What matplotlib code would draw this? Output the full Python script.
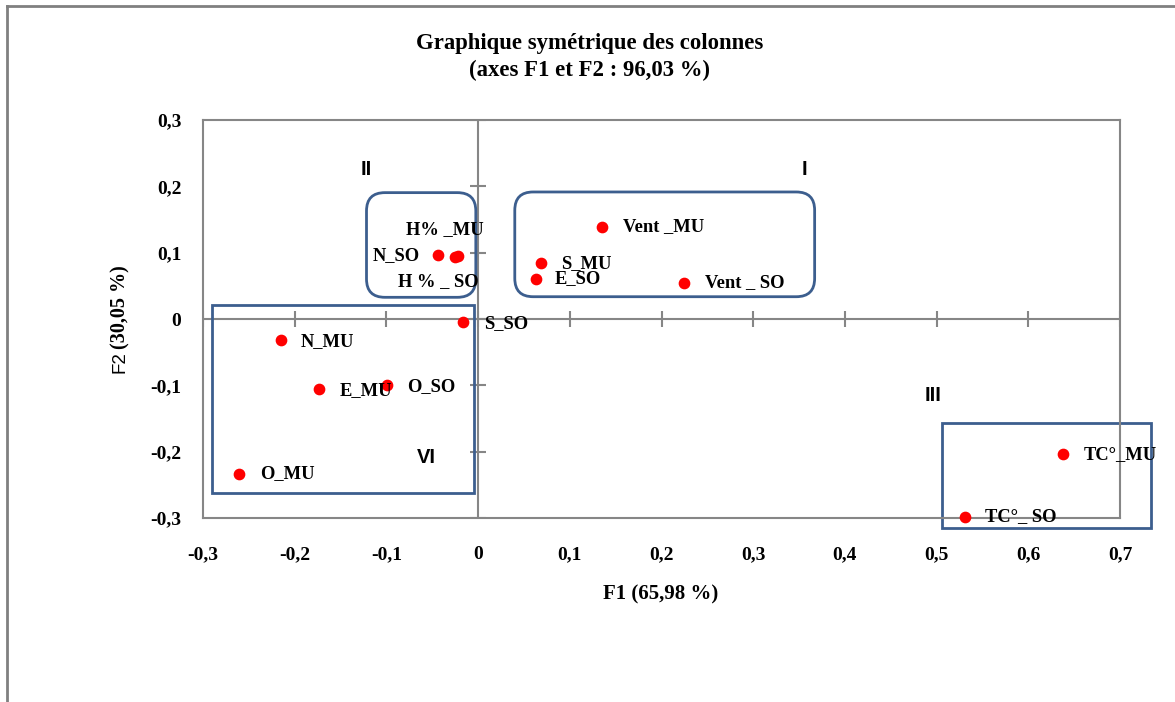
import matplotlib
matplotlib.use("Agg")
import matplotlib.pyplot as plt
from matplotlib.patches import FancyBboxPatch, Rectangle
from matplotlib.lines import Line2D

# coordonnées des colonnes (F1, F2)
labels = ["Vent _MU", "Vent _ SO", "S_MU", "E_SO", "H% _MU", "N_SO", "H % _ SO",
          "S_SO", "N_MU", "E_MU", "O_SO", "O_MU", "TC°_MU", "TC°_ SO"]
f1 = [0.135, 0.225, 0.069, 0.063, -0.022, -0.044, -0.025,
      -0.016, -0.215, -0.173, -0.099, -0.261, 0.638, 0.531]
f2 = [0.139, 0.055, 0.084, 0.060, 0.095, 0.096, 0.093,
      -0.005, -0.032, -0.106, -0.100, -0.233, -0.204, -0.298]

xticks = [-0.3, -0.2, -0.1, 0, 0.1, 0.2, 0.3, 0.4, 0.5, 0.6, 0.7]
xtick_labels = ["-0,3", "-0,2", "-0,1", "0", "0,1", "0,2", "0,3", "0,4", "0,5", "0,6", "0,7"]
yticks = [-0.3, -0.2, -0.1, 0, 0.1, 0.2, 0.3]
ytick_labels = ["-0,3", "-0,2", "-0,1", "0", "0,1", "0,2", "0,3"]

# décalage des étiquettes (pixels) par rapport aux points
label_offsets = {
    "Vent _MU": (21, 0), "Vent _ SO": (21, 0), "S_MU": (20, 0), "E_SO": (19, 1),
    "H% _MU": (-52, 26), "N_SO": (-65, 0), "H % _ SO": (-57, -24),
    "S_SO": (21, -1), "N_MU": (20, -1), "E_MU": (20, -1), "O_SO": (20, -1),
    "O_MU": (21, 0), "TC°_MU": (21, 0), "TC°_ SO": (20, 0),
}

# groupes (x0, y0, x1, y1), coins arrondis
groups = [
    ((0.040, 0.0336, 0.367, 0.1915), True),
    ((-0.1217, 0.0327, -0.0025, 0.1905), True),
    ((-0.2907, -0.262, -0.0047, 0.0216), False),
    ((0.506, -0.3157, 0.7343, -0.1573), False),
]
group_names = ["I", "II", "III", "VI"]
group_name_pos = [(0.356, 0.226), (-0.122, 0.226), (0.496, -0.115), (-0.056, -0.209)]

serif = "Liberation Serif"
sans = "Liberation Sans"
gray = "#868686"
blue = "#3c5e8e"

fig = plt.figure(figsize=(11.75, 7.02), dpi=100)
W, H = 1175, 702
ax = fig.add_axes([203 / W, (H - 518) / H, (1120 - 203) / W, (518 - 120) / H])

ax.set_xlim(-0.3, 0.7)
ax.set_ylim(-0.3, 0.3)
for s in ax.spines.values():
    s.set_color(gray)
    s.set_linewidth(1.5)

ax.set_xticks(xticks)
ax.set_xticklabels(xtick_labels, fontfamily=serif, fontweight="bold", fontsize=14)
ax.set_yticks(yticks)
ax.set_yticklabels(ytick_labels, fontfamily=serif, fontweight="bold", fontsize=14)
ax.tick_params(length=0)
ax.tick_params(axis="x", pad=20)
ax.tick_params(axis="y", pad=15.5)

# axes centraux avec graduations en croix
ax.axhline(0, color=gray, lw=1.5, zorder=1)
ax.axvline(0, color=gray, lw=1.5, zorder=1)
ax.plot(xticks, [0] * len(xticks), ls="none", marker="|", ms=11, mew=1.5, color=gray, zorder=1)
ax.plot([0] * len(yticks), yticks, ls="none", marker="_", ms=11, mew=1.5, color=gray, zorder=1)

# cadres des groupes
for (x0, y0, x1, y1), rounded in groups:
    if rounded:
        p = FancyBboxPatch((x0, y0), x1 - x0, y1 - y0,
                           boxstyle="round,pad=0,rounding_size=0.02",
                           mutation_aspect=1.38, fill=False, ec=blue, lw=2,
                           clip_on=False, zorder=2)
    else:
        p = Rectangle((x0, y0), x1 - x0, y1 - y0, fill=False, ec=blue, lw=2,
                      clip_on=False, zorder=2)
    ax.add_patch(p)

for name, (gx, gy) in zip(group_names, group_name_pos):
    ax.text(gx, gy, name, fontfamily=sans, fontweight="bold", fontsize=14.5,
            ha="center", va="center")

ax.scatter(f1, f2, s=55, color="red", zorder=3, clip_on=False)

for lab, x, y in zip(labels, f1, f2):
    dx, dy = label_offsets[lab]
    ax.annotate(lab, (x, y), xytext=(dx, dy), textcoords="offset pixels",
                fontfamily=serif, fontweight="bold", fontsize=13.3,
                ha="left", va="center", zorder=4)

fig.text(590 / W, 1 - 43 / H, "Graphique symétrique des colonnes", fontfamily=serif,
         fontweight="bold", fontsize=16.4, ha="center", va="center")
fig.text(590 / W, 1 - 70 / H, "(axes F1 et F2 : 96,03 %)", fontfamily=serif,
         fontweight="bold", fontsize=16.4, ha="center", va="center")
fig.text(661 / W, 1 - 594 / H, "F1 (65,98 %)", fontfamily=serif,
         fontweight="bold", fontsize=15, ha="center", va="center")
fig.text(120 / W, 1 - 349 / H, "(30,05 %)", fontfamily=serif, fontweight="bold",
         fontsize=14.5, rotation=90, ha="center", va="bottom")
fig.text(120 / W, 1 - 351 / H, "F2", fontfamily=sans, fontsize=13.5,
         rotation=90, ha="center", va="top")

# cadre extérieur
fig.add_artist(Line2D([7 / W, 7 / W], [0, 1 - 6 / H], color="#808080", lw=2))
fig.add_artist(Line2D([7 / W, 1], [1 - 6 / H, 1 - 6 / H], color="#808080", lw=2))

fig.savefig("out.png", dpi=100)
